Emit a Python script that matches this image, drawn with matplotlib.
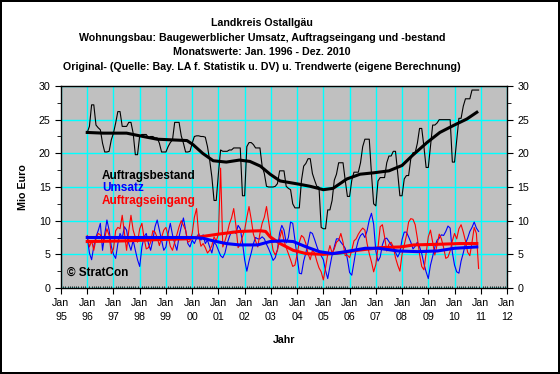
import numpy as np
import matplotlib
matplotlib.use("Agg")
import matplotlib.pyplot as plt
from matplotlib.ticker import MultipleLocator

plt.rcParams['font.family'] = ['Liberation Sans', 'DejaVu Sans']

# Monatswerte Jan 1996 - Dez 2010 (Mio Euro), je Jahr 12 Werte
bestand = [
    23.1, 24.0, 27.2, 27.2, 24.2, 23.8, 23.5, 21.5, 20.2, 20.2, 20.3, 22.0,  # 1996
    23.0, 24.5, 26.2, 26.2, 24.0, 24.0, 24.0, 24.6, 24.6, 23.0, 19.8, 19.8,  # 1997
    22.6, 22.8, 22.8, 22.8, 22.3, 22.5, 22.5, 22.3, 22.3, 21.5, 20.2, 20.2,  # 1998
    20.2, 21.0, 21.6, 22.0, 24.6, 24.6, 24.6, 22.6, 21.5, 20.2, 20.2, 20.3,  # 1999
    21.5, 22.5, 22.6, 22.6, 22.5, 22.5, 22.4, 21.0, 19.0, 16.5, 13.0, 13.0,  # 2000
    17.0, 20.5, 20.3, 20.3, 20.3, 20.5, 20.5, 20.8, 20.8, 20.8, 20.8, 13.7,  # 2001
    13.7, 21.0, 21.6, 21.6, 21.3, 20.8, 20.8, 20.8, 18.1, 17.0, 15.1, 15.0,  # 2002
    15.0, 15.0, 15.1, 15.5, 17.4, 17.4, 17.4, 15.1, 14.8, 14.6, 12.5, 11.9,  # 2003
    11.9, 11.9, 16.0, 18.1, 18.5, 19.2, 19.2, 17.0, 16.0, 15.1, 15.0, 9.0,   # 2004
    8.8, 8.8, 11.6, 11.6, 13.0, 16.0, 16.9, 18.6, 18.6, 18.6, 16.0, 13.6,    # 2005
    13.6, 16.0, 17.2, 17.2, 17.2, 18.6, 21.0, 22.1, 22.1, 22.1, 17.0, 12.5,  # 2006
    12.2, 15.9, 16.4, 16.4, 16.4, 18.6, 19.6, 19.6, 20.3, 20.3, 17.1, 13.7,  # 2007
    13.7, 16.2, 16.7, 16.7, 19.2, 20.1, 20.1, 21.5, 23.7, 23.7, 21.0, 17.9,  # 2008
    17.9, 21.0, 24.2, 24.2, 24.5, 25.0, 25.0, 25.0, 25.0, 25.0, 25.0, 18.7,  # 2009
    18.7, 22.0, 25.2, 25.2, 27.0, 28.1, 28.1, 28.1, 29.4, 29.4, 29.4, 29.4,  # 2010
]

umsatz = [
    7.6, 5.2, 4.2, 6.2, 7.6, 8.5, 9.6, 5.6, 8.0, 10.1, 8.6, 6.2,   # 1996
    5.0, 4.4, 6.6, 8.1, 7.4, 9.1, 8.6, 6.6, 5.6, 7.1, 5.6, 4.2,    # 1997
    3.2, 6.1, 7.6, 8.1, 6.6, 5.6, 7.1, 9.1, 10.1, 8.6, 7.1, 5.6,   # 1998
    6.1, 8.1, 9.6, 7.9, 6.6, 5.6, 7.6, 9.1, 10.4, 8.6, 6.6, 6.1,   # 1999
    7.1, 6.6, 7.4, 8.1, 7.1, 7.9, 6.6, 7.1, 6.1, 5.2, 6.8, 6.4,    # 2000
    5.6, 4.8, 4.5, 5.2, 6.6, 7.6, 8.4, 8.4, 8.1, 9.3, 8.8, 6.8,    # 2001
    4.2, 2.5, 4.0, 5.2, 6.6, 7.5, 7.3, 7.3, 7.6, 7.3, 6.5, 5.8,    # 2002
    5.0, 4.1, 4.5, 5.7, 8.2, 9.3, 8.6, 6.7, 7.5, 9.8, 9.6, 7.1,    # 2003
    4.7, 2.2, 2.1, 4.0, 5.2, 6.7, 8.3, 8.1, 7.2, 6.2, 5.3, 4.8,    # 2004
    4.2, 2.6, 1.4, 3.2, 4.9, 6.1, 7.3, 7.3, 6.8, 6.4, 5.9, 4.3,    # 2005
    2.3, 1.9, 3.8, 5.8, 7.1, 7.8, 8.1, 7.5, 8.5, 10.1, 11.1, 9.5,  # 2006
    5.5, 4.0, 4.6, 6.4, 7.3, 7.4, 6.9, 6.4, 6.1, 5.3, 4.6, 5.3,    # 2007
    7.2, 8.3, 8.3, 7.6, 6.8, 5.8, 6.2, 6.8, 6.1, 5.1, 3.6, 2.4,    # 2008
    1.4, 3.4, 4.7, 6.1, 7.1, 7.4, 7.9, 7.8, 8.4, 9.2, 8.9, 5.3,    # 2009
    3.4, 2.4, 2.2, 4.0, 5.2, 6.6, 7.4, 8.4, 9.0, 9.8, 8.9, 8.4,    # 2010
]

eingang = [
    7.8, 6.1, 7.0, 5.6, 7.3, 8.1, 7.9, 6.8, 7.5, 8.8, 7.8, 5.1,     # 1996
    5.8, 8.5, 9.0, 8.8, 10.8, 8.2, 5.6, 8.5, 10.8, 8.6, 7.5, 6.8,   # 1997
    8.8, 9.6, 7.4, 5.8, 6.0, 6.8, 8.5, 8.3, 7.5, 6.3, 7.5, 8.6,     # 1998
    9.0, 7.7, 6.2, 5.6, 6.8, 7.9, 9.1, 10.0, 9.3, 8.6, 6.8, 7.0,    # 1999
    8.1, 10.5, 11.8, 7.8, 6.2, 6.6, 6.0, 5.2, 5.6, 6.3, 7.6, 7.0,   # 2000
    8.0, 17.8, 6.1, 7.0, 8.1, 9.5, 10.4, 11.8, 9.3, 6.0, 6.5, 7.6,  # 2001
    8.6, 10.5, 12.1, 10.2, 8.0, 7.0, 6.1, 8.1, 9.6, 10.5, 12.1, 9.8,  # 2002
    7.6, 5.6, 4.9, 5.6, 7.3, 8.6, 7.0, 6.0, 5.1, 4.2, 3.2, 3.4,     # 2003
    5.0, 6.8, 7.8, 7.5, 6.6, 5.1, 4.2, 5.6, 5.2, 4.0, 3.0, 2.4,     # 2004
    1.2, 3.0, 5.0, 6.3, 5.2, 5.8, 6.8, 7.1, 8.1, 6.8, 4.8, 4.9,     # 2005
    4.5, 5.6, 7.0, 7.3, 8.0, 8.5, 8.9, 8.6, 6.6, 5.1, 3.9, 2.4,     # 2006
    3.5, 6.0, 9.1, 9.4, 7.6, 5.5, 6.5, 6.8, 6.1, 4.5, 3.4, 2.5,     # 2007
    5.0, 6.4, 7.8, 9.8, 10.3, 10.2, 9.4, 7.4, 5.0, 3.2, 2.7, 5.2,   # 2008
    7.6, 8.6, 6.8, 4.9, 6.4, 8.0, 7.3, 6.0, 4.4, 4.6, 5.5, 7.0,     # 2009
    8.1, 7.3, 8.8, 9.4, 8.3, 7.0, 5.3, 4.8, 6.8, 9.0, 8.1, 2.9,     # 2010
]

# Trendwerte (eigene Berechnung), Stuetzstellen in Jahren
trend_bestand_x = [1996.0, 1996.6, 1997.5, 1998.0, 1998.66, 1999.8, 2000.03, 2000.4,
                   2000.8, 2001.3, 2001.8, 2002.2, 2002.6, 2002.97, 2003.35, 2004.1,
                   2004.5, 2005.0, 2005.37, 2005.9, 2006.4, 2006.9, 2007.5, 2008.0,
                   2008.4, 2008.95, 2009.44, 2009.94, 2010.47, 2010.85]
trend_bestand = [23.1, 23.0, 23.0, 22.6, 22.1, 21.9, 21.3, 20.0,
                 18.9, 18.7, 19.0, 18.8, 18.1, 16.9, 15.9, 15.4,
                 15.1, 14.6, 14.8, 16.2, 16.9, 17.1, 17.4, 18.2,
                 19.7, 21.6, 23.1, 24.1, 25.1, 26.1]

trend_umsatz_x = [1996.0, 1998.0, 2000.0, 2000.4, 2000.8, 2001.3, 2001.8, 2002.5, 2002.97,
                  2003.45, 2003.85, 2004.35, 2004.85, 2005.35, 2005.85, 2006.6, 2007.1,
                  2007.85, 2008.6, 2009.35, 2010.0, 2010.85]
trend_umsatz = [7.5, 7.5, 7.5, 7.4, 7.0, 6.6, 6.4, 6.4, 6.9,
                7.0, 6.9, 6.1, 5.4, 5.1, 5.4, 5.9, 5.9,
                5.5, 5.4, 5.5, 5.9, 6.1]

trend_eingang_x = [1996.0, 1997.5, 1998.8, 1999.8, 2000.3, 2001.0, 2001.8, 2002.6, 2002.8,
                   2002.97, 2003.35, 2003.85, 2004.35, 2005.0, 2005.65, 2006.3, 2007.2,
                   2007.95, 2008.45, 2009.45, 2010.2, 2010.85]
trend_eingang = [6.9, 7.0, 7.2, 7.3, 7.6, 8.0, 8.4, 8.5, 8.4,
                 7.6, 6.6, 5.6, 5.1, 5.0, 5.2, 5.6, 6.0,
                 6.1, 6.4, 6.5, 6.6, 6.6]

jahre = list(range(1995, 2013))
jahr_labels = ["Jan\n%02d" % (j % 100) for j in jahre]

titel = ["Landkreis Ostallgäu",
         "Wohnungsbau: Baugewerblicher Umsatz, Auftragseingang und -bestand",
         "Monatswerte: Jan. 1996 - Dez. 2010",
         "Original- (Quelle: Bay. LA f. Statistik u. DV) u. Trendwerte (eigene Berechnung)"]

monate = 1996 + np.arange(180) / 12.0
FS = 7.7

fig = plt.figure(figsize=(5.6, 3.74), dpi=100)
fig.patch.set_facecolor('white')
fig.patch.set_edgecolor('black')
fig.patch.set_linewidth(1.5)

ax = fig.add_axes([61 / 560, 86 / 374, 446 / 560, 202 / 374])
ax.set_facecolor('#C0C0C0')

ax.plot(monate, bestand, color='black', lw=0.8)
ax.plot(monate, umsatz, color='#0000FF', lw=0.8)
ax.plot(monate, eingang, color='#FF0000', lw=0.8)
ax.plot(trend_bestand_x, trend_bestand, color='black', lw=2.2)
ax.plot(trend_eingang_x, trend_eingang, color='#FF0000', lw=2.2)
ax.plot(trend_umsatz_x, trend_umsatz, color='#0000FF', lw=2.2)

ax.set_xlim(1995, 2012)
ax.set_ylim(0, 30)
ax.set_xticks(jahre)
ax.set_xticklabels(jahr_labels, fontsize=FS)
for lab in ax.get_xticklabels():
    lab.set_linespacing(1.5)
ax.xaxis.set_minor_locator(MultipleLocator(1 / 12))
ax.set_yticks(range(0, 31, 5))
ax.yaxis.set_minor_locator(MultipleLocator(2.5))
ax.tick_params(axis='y', labelsize=FS, right=True, labelright=True, length=4, which='major')
ax.tick_params(axis='y', which='minor', right=True, length=3)
ax.tick_params(axis='x', which='major', length=4)
ax.tick_params(axis='x', which='minor', length=1.5, direction='in')
ax.grid(True, which='major', color='#00FFFF', lw=1)
ax.set_axisbelow(True)
for s in ax.spines.values():
    s.set_linewidth(1)

ax.set_ylabel('Mio Euro', fontsize=FS, fontweight='bold', labelpad=8)
ax.set_xlabel('Jahr', fontsize=FS, fontweight='bold', labelpad=9)

for i, t in enumerate(titel):
    fig.text(262 / 560, 1 - (23 + 14.7 * i) / 374, t, ha='center', va='center',
             fontsize=FS, fontweight='bold')

ax.text(1996.56, 16.7, 'Auftragsbestand', color='black', fontsize=8.5, fontweight='bold', va='center')
ax.text(1996.56, 14.8, 'Umsatz', color='#0000FF', fontsize=8.5, fontweight='bold', va='center')
ax.text(1996.56, 12.9, 'Auftragseingang', color='#FF0000', fontsize=8.5, fontweight='bold', va='center')
ax.text(1995.23, 2.2, '© StratCon', color='black', fontsize=8.5, fontweight='bold', va='center')

fig.savefig('out.png', dpi=100)
